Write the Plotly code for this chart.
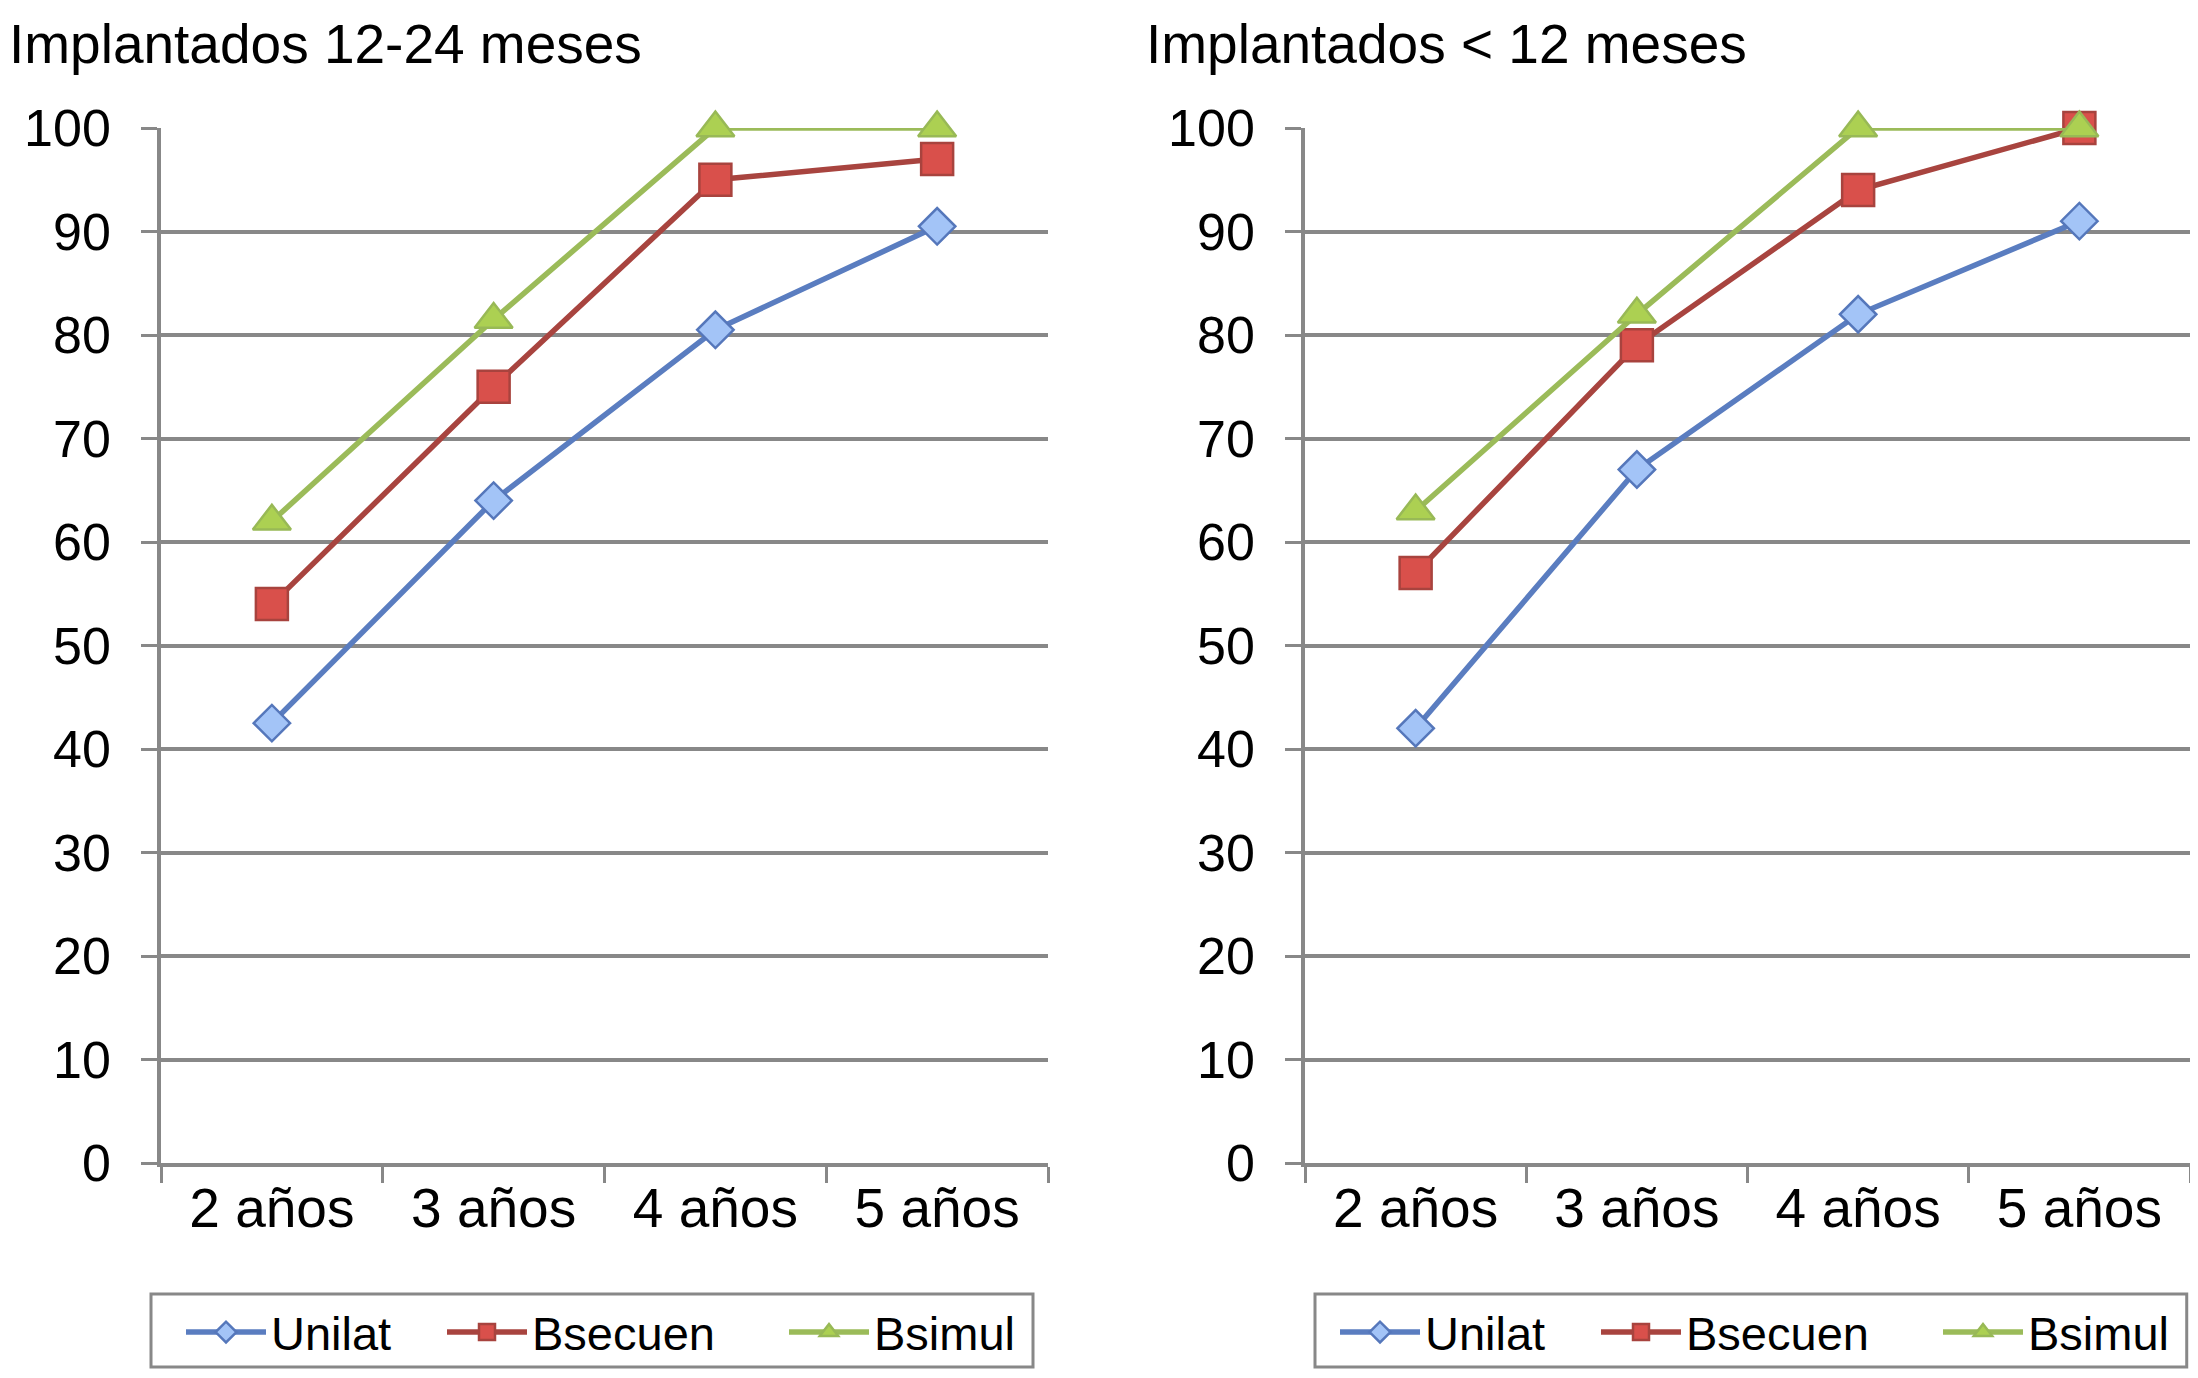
import plotly.graph_objects as go

categories = ["2 años", "3 años", "4 años", "5 años"]
series_names = ["Unilat", "Bsecuen", "Bsimul"]

left_title = "Implantados 12-24 meses"
left_unilat = [42.5, 64, 80.5, 90.5]
left_bsecuen = [54, 75, 95, 97]
left_bsimul = [62, 81.5, 100, 100]

right_title = "Implantados < 12 meses"
right_unilat = [42, 67, 82, 91]
right_bsecuen = [57, 79, 94, 100]
right_bsimul = [63, 82, 100, 100]

y_ticks = [0, 10, 20, 30, 40, 50, 60, 70, 80, 90, 100]

# page body has an 8px margin, so the figure is sized to fit the window exactly
OFF = 8
W, H = 2198 - 2 * OFF, 1378 - 2 * OFF
FONT = "Liberation Sans, Arial, Helvetica, sans-serif"
GRID = "#888888"


def px(X):
    return (X - OFF) / W


def py(Y):
    return (H - (Y - OFF)) / H


styles = {
    "Unilat": dict(line="#5a7dc0", fill="#a3c4f7", edge="#5577bb", symbol="diamond", size=28, lw=166),
    "Bsecuen": dict(line="#a8443f", fill="#d9504b", edge="#a8433e", symbol="square", size=32, lw=247),
    "Bsimul": dict(line="#9bbb59", fill="#acd052", edge="#98b956", symbol="triangle-up", size=33, lw=150),
}

fig = go.Figure()

panels = [
    ("x", "y", "legend", [left_unilat, left_bsecuen, left_bsimul]),
    ("x2", "y2", "legend2", [right_unilat, right_bsecuen, right_bsimul]),
]
for xa, ya, lg, data in panels:
    for name, vals in zip(series_names, data):
        s = styles[name]
        fig.add_trace(go.Scatter(
            x=categories, y=vals, name=name, mode="lines+markers",
            xaxis=xa, yaxis=ya, legend=lg, cliponaxis=False,
            legendwidth=s["lw"],
            line=dict(color=s["line"], width=5.5),
            marker=dict(symbol=s["symbol"], size=s["size"], color=s["fill"],
                        line=dict(color=s["edge"], width=2.5)),
        ))

ydom = [py(1163), py(128)]
xdom1 = [px(161), px(1048)]
xdom2 = [px(1305), 1.0]


def xaxis(dom, anchor):
    return dict(domain=dom, anchor=anchor, type="category", range=[-0.5, 3.5],
                tickson="boundaries", ticks="outside", ticklen=16, tickwidth=3,
                tickcolor=GRID, showline=True, linecolor=GRID, linewidth=3.5,
                showgrid=False, zeroline=False, automargin=False,
                ticklabelstandoff=-6,
                tickfont=dict(family=FONT, size=55, color="black"))


def yaxis(anchor):
    return dict(domain=ydom, anchor=anchor, range=[0, 100], tickvals=y_ticks,
                ticks="outside", ticklen=16, tickwidth=3, tickcolor=GRID,
                showline=True, linecolor=GRID, linewidth=3.5,
                showgrid=True, gridcolor=GRID, gridwidth=3.5, zeroline=False,
                ticklabelstandoff=20, automargin=False,
                tickfont=dict(family=FONT, size=52, color="black"))


legend_common = dict(orientation="h", xanchor="left", yanchor="bottom", y=0,
                     borderwidth=0, bgcolor="rgba(0,0,0,0)",
                     font=dict(family=FONT, size=47, color="black"),
                     itemwidth=80, itemclick=False, itemdoubleclick=False)

legend_boxes = [(151, 1033), (1315, 2194)]
shapes = []
for x0, x1 in legend_boxes:
    shapes.append(dict(type="rect", xref="paper", yref="paper",
                       x0=px(x0), x1=min(px(x1), 0.9985), y0=py(1367), y1=py(1294),
                       line=dict(color=GRID, width=3), fillcolor="rgba(0,0,0,0)",
                       layer="below"))

fig.update_layout(
    width=W, height=H,
    margin=dict(l=0, r=0, t=0, b=0),
    paper_bgcolor="white", plot_bgcolor="white",
    xaxis=xaxis(xdom1, "y"), yaxis=yaxis("x"),
    xaxis2=xaxis(xdom2, "y2"), yaxis2=yaxis("x2"),
    legend=dict(x=px(186 - 5), **legend_common),
    legend2=dict(x=px(1340 - 5), **legend_common),
    shapes=shapes,
    annotations=[
        dict(text=left_title, x=0, y=py(44), xref="paper", yref="paper",
             xanchor="left", yanchor="middle", showarrow=False, borderpad=0,
             font=dict(family=FONT, size=55, color="black")),
        dict(text=right_title, x=px(1145), y=py(44), xref="paper", yref="paper",
             xanchor="left", yanchor="middle", showarrow=False, borderpad=0,
             font=dict(family=FONT, size=55, color="black")),
    ],
    showlegend=True,
)

fig.write_html("out.html")
